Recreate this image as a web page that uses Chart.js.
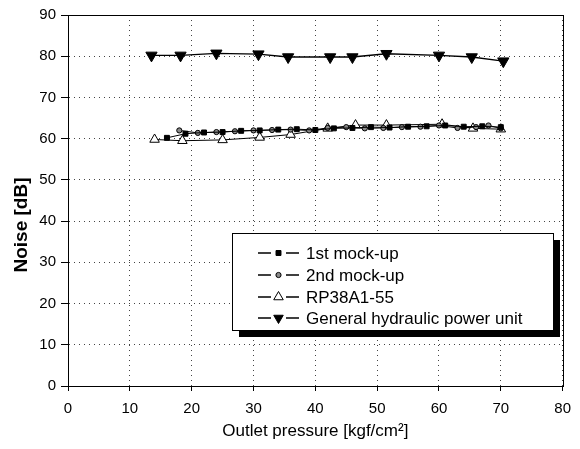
<!DOCTYPE html>
<html><head><meta charset="utf-8">
<script src="https://cdn.jsdelivr.net/npm/chart.js@4.4.1/dist/chart.umd.min.js"></script>
<style>html,body{margin:0;padding:0;background:#fff}#wrap{width:580px;height:449px}</style>
</head><body><div id="wrap"><canvas id="c" width="580" height="449"></canvas></div>
<script>
// ---- data ----
const seriesNames = ["1st mock-up", "2nd mock-up", "RP38A1-55", "General hydraulic power unit"];
const mock1X = [16, 19, 22, 25, 28, 31, 34, 37, 40, 43, 46, 49, 52, 55, 58, 61, 64, 67, 70];
const mock1Y = [60.2, 61.2, 61.5, 61.6, 61.9, 62.0, 62.2, 62.3, 62.1, 62.5, 62.6, 62.8, 62.7, 62.9, 63.0, 63.2, 62.9, 63.0, 62.8];
const mock2X = [18, 21, 24, 27, 30, 33, 36, 39, 42, 45, 48, 51, 54, 57, 60, 63, 66, 68, 70];
const mock2Y = [62.0, 61.4, 61.6, 61.8, 62.0, 62.1, 62.2, 62.0, 62.6, 62.8, 62.5, 62.6, 62.8, 62.9, 63.2, 62.6, 62.8, 63.2, 62.5];
const rpX = [14, 18.5, 25, 31, 36, 42, 46.5, 51.5, 60.5, 65.5, 70];
const rpY = [59.8, 59.5, 59.7, 60.3, 61.0, 62.5, 63.3, 63.3, 63.5, 62.5, 62.3];
const genX = [13.5, 18.2, 24.0, 30.8, 35.6, 42.4, 46.0, 51.5, 60.0, 65.3, 70.4];
const genY = [80.2, 80.2, 80.7, 80.5, 79.8, 79.8, 79.8, 80.6, 80.2, 79.8, 78.8];
const xTicks = [0, 10, 20, 30, 40, 50, 60, 70, 80];
const yTicks = [0, 10, 20, 30, 40, 50, 60, 70, 80, 90];
const xTitle = "Outlet pressure [kgf/cm²]";
const yTitle = "Noise [dB]";

const pts = (xs, ys) => xs.map((x, i) => ({x, y: ys[i]}));
const FONT = "'Liberation Sans Narrow','Liberation Sans',Arial,sans-serif";
const FONT2 = "'Liberation Sans',Arial,sans-serif";

const datasets = [
  {label: seriesNames[0], data: pts(mock1X, mock1Y), borderColor:'#000', borderWidth:1,
   pointStyle:'rect', pointRadius:3.5, pointBackgroundColor:'#000', pointBorderColor:'#000', pointBorderWidth:1},
  {label: seriesNames[1], data: pts(mock2X, mock2Y), borderColor:'#000', borderWidth:1,
   pointStyle:'circle', pointRadius:2.6, pointBackgroundColor:'#8a8a8a', pointBorderColor:'#000', pointBorderWidth:1},
  {label: seriesNames[2], data: pts(rpX, rpY), borderColor:'#000', borderWidth:1,
   pointStyle:'triangle', pointRadius:5.5, pointBackgroundColor:'#fff', pointBorderColor:'#000', pointBorderWidth:1},
  {label: seriesNames[3], data: pts(genX, genY), borderColor:'#000', borderWidth:1.4,
   pointStyle:'triangle', pointRotation:180, pointRadius:6.5, pointBackgroundColor:'#000', pointBorderColor:'#000', pointBorderWidth:1}
];

const framePlugin = {
  id:'frame',
  afterDraw(chart){
    const {ctx, chartArea:a} = chart;
    ctx.save();
    ctx.strokeStyle='#000'; ctx.lineWidth=1;
    ctx.strokeRect(Math.round(a.left)+0.5, Math.round(a.top)+0.5, Math.round(a.right-a.left), Math.round(a.bottom-a.top));
    // y title
    ctx.translate(22, 225); ctx.rotate(-Math.PI/2);
    ctx.font = "bold 19px " + FONT2; ctx.fillStyle='#000';
    ctx.textAlign='center'; ctx.textBaseline='middle';
    ctx.fillText(yTitle, 0, 0);
    ctx.restore();
    // legend
    const lg = {x:232, y:233, w:321, h:97};
    ctx.save();
    ctx.fillStyle='#000'; ctx.fillRect(lg.x+7, lg.y+7, lg.w, lg.h);
    ctx.fillStyle='#fff'; ctx.fillRect(lg.x, lg.y, lg.w, lg.h);
    ctx.strokeStyle='#000'; ctx.lineWidth=1; ctx.strokeRect(lg.x+0.5, lg.y+0.5, lg.w, lg.h);
    const rows=[253, 275, 297, 318];
    chart.data.datasets.forEach((ds, i) => {
      const y = rows[i];
      ctx.strokeStyle='#000'; ctx.lineWidth=1.3;
      ctx.beginPath(); ctx.moveTo(258, y); ctx.lineTo(271, y); ctx.moveTo(286, y); ctx.lineTo(299, y); ctx.stroke();
      ctx.fillStyle = ds.pointBackgroundColor; ctx.strokeStyle = ds.pointBorderColor; ctx.lineWidth = ds.pointBorderWidth;
      Chart.helpers.drawPoint(ctx, {pointStyle: ds.pointStyle, rotation: ds.pointRotation||0, radius: Math.min(ds.pointRadius, 5.5), borderWidth: ds.pointBorderWidth}, 278.5, y);
      ctx.fillStyle='#000'; ctx.font = "17px " + FONT2; ctx.textAlign='left'; ctx.textBaseline='middle';
      ctx.fillText(ds.label, 306, y+1);
    });
    ctx.restore();
  }
};

new Chart(document.getElementById('c'), {
  type:'line',
  data:{datasets},
  options:{
    responsive:false, animation:false, devicePixelRatio:1,
    layout:{padding:{top:15, right:17, left:0, bottom:0}},
    plugins:{legend:{display:false}, tooltip:{enabled:false}},
    elements:{line:{tension:0}},
    scales:{
      x:{type:'linear', min:0, max:80,
        afterBuildTicks(s){ s.ticks = xTicks.map(v=>({value:v})); },
        afterFit(s){ s.height = 63; },
        ticks:{color:'#000', font:{family:FONT, size:15}, padding:9},
        grid:{color:'#444', lineWidth:1, drawTicks:true, tickLength:5, tickColor:'#000', tickBorderDash:[0,0]},
        border:{display:true, color:'#000', width:1, dash:[1,4]},
        title:{display:true, text:xTitle, color:'#000', font:{family:FONT2, size:17}, padding:{top:0, bottom:7}}
      },
      y:{type:'linear', min:0, max:90,
        afterBuildTicks(s){ s.ticks = yTicks.map(v=>({value:v})); },
        afterFit(s){ s.width = 68; },
        ticks:{color:'#000', font:{family:FONT, size:15}, padding:5},
        grid:{color:'#444', lineWidth:1, drawTicks:true, tickLength:7, tickColor:'#000', tickBorderDash:[0,0]},
        border:{display:true, color:'#000', width:1, dash:[1,4]}
      }
    }
  },
  plugins:[framePlugin]
});
</script></body></html>
